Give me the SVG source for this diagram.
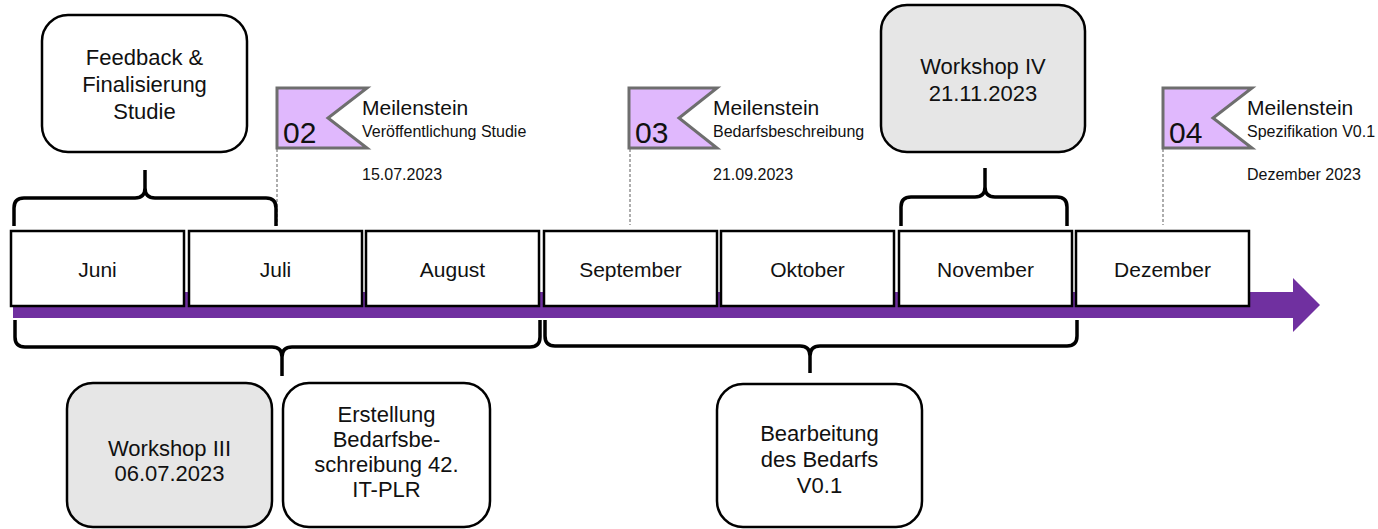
<svg xmlns="http://www.w3.org/2000/svg" width="1378" height="529" viewBox="0 0 1378 529">
<style>
text{font-family:"Liberation Sans",Arial,sans-serif;fill:#111}
.month rect{fill:#fff;stroke:#000;stroke-width:2.5}
.month text{font-size:21px;text-anchor:middle}
.box rect{fill:#fff;stroke:#000;stroke-width:2.5}
.box.grey rect{fill:#e6e6e6}
.box text{font-size:22px;text-anchor:middle}
.flag polygon{fill:#e0b8fd;stroke:#6e6e6e;stroke-width:3}
.flag .num{font-size:30px}
.flag .t1{font-size:21px}
.flag .t2{font-size:16px}
.brace{fill:none;stroke:#000;stroke-width:3.5;stroke-linejoin:round}
.pole{stroke:#777;stroke-width:1.2;stroke-dasharray:3 2}
</style>
<rect width="1378" height="529" fill="#fff"/>
<g id="timeline">
<rect x="13" y="292" width="1281" height="26" fill="#7030a0"/>
<polygon points="1293,278 1320,305 1293,332" fill="#7030a0"/>
</g>
<g id="connectors">
<line class="pole" x1="277" y1="149" x2="277" y2="225"/>
<line class="pole" x1="630" y1="149" x2="630" y2="225"/>
<line class="pole" x1="1163" y1="149" x2="1163" y2="225"/>
<path class="brace" d="M14 226 V208 Q14 198 24 198 H135 Q145 198 145 188 V170 M145 188 Q145 198 155 198 H266 Q276 198 276 208 V226"/>
<path class="brace" d="M901 226 V207 Q901 197 911 197 H975 Q985 197 985 187 V168 M985 187 Q985 197 995 197 H1057 Q1067 197 1067 207 V226"/>
<path class="brace" d="M15 320 V337 Q15 347 25 347 H272 Q282 347 282 357 V376 M282 357 Q282 347 292 347 H530 Q540 347 540 337 V320"/>
<path class="brace" d="M545 320 V336 Q545 346 555 346 H800 Q810 346 810 356 V373 M810 356 Q810 346 820 346 H1067 Q1077 346 1077 336 V320"/>
</g>
<g id="m-juni" class="month"><rect x="11" y="231" width="173" height="75"/><text x="97.5" y="277">Juni</text></g>
<g id="m-juli" class="month"><rect x="189" y="231" width="173" height="75"/><text x="275.5" y="277">Juli</text></g>
<g id="m-august" class="month"><rect x="366" y="231" width="173" height="75"/><text x="452.5" y="277">August</text></g>
<g id="m-september" class="month"><rect x="544" y="231" width="173" height="75"/><text x="630.5" y="277">September</text></g>
<g id="m-oktober" class="month"><rect x="721" y="231" width="173" height="75"/><text x="807.5" y="277">Oktober</text></g>
<g id="m-november" class="month"><rect x="899" y="231" width="173" height="75"/><text x="985.5" y="277">November</text></g>
<g id="m-dezember" class="month"><rect x="1076" y="231" width="173" height="75"/><text x="1162.5" y="277">Dezember</text></g>
<g id="feedback" class="box"><rect x="42" y="15" width="205" height="137" rx="26"/><text x="144.5" y="65">Feedback &amp;</text><text x="144.5" y="92">Finalisierung</text><text x="144.5" y="119">Studie</text></g>
<g id="workshop4" class="box grey"><rect x="881" y="5" width="204" height="147" rx="26"/><text x="983" y="74">Workshop IV</text><text x="983" y="101">21.11.2023</text></g>
<g id="workshop3" class="box grey"><rect x="67" y="383" width="205" height="144" rx="26"/><text x="169.5" y="456">Workshop III</text><text x="169.5" y="481">06.07.2023</text></g>
<g id="erstellung" class="box"><rect x="283" y="383" width="207" height="144" rx="26"/><text x="386.5" y="422">Erstellung</text><text x="386.5" y="447">Bedarfsbe-</text><text x="386.5" y="472">schreibung 42.</text><text x="386.5" y="497">IT-PLR</text></g>
<g id="bearbeitung" class="box"><rect x="717" y="384" width="205" height="143" rx="26"/><text x="819.5" y="441">Bearbeitung</text><text x="819.5" y="467">des Bedarfs</text><text x="819.5" y="493">V0.1</text></g>
<g id="ms02" class="flag"><polygon points="277,88 367,88 328,118 367,148 277,148"/><text class="num" x="283" y="143">02</text><text class="t1" x="362" y="115">Meilenstein</text><text class="t2" x="362" y="137">Veröffentlichung Studie</text><text class="t2" x="362" y="180">15.07.2023</text></g>
<g id="ms03" class="flag"><polygon points="629,88 717,88 679,118 717,148 629,148"/><text class="num" x="635" y="143">03</text><text class="t1" x="713" y="115">Meilenstein</text><text class="t2" x="713" y="137">Bedarfsbeschreibung</text><text class="t2" x="713" y="180">21.09.2023</text></g>
<g id="ms04" class="flag"><polygon points="1163,88 1252,88 1213,118 1252,148 1163,148"/><text class="num" x="1169" y="143">04</text><text class="t1" x="1247" y="115">Meilenstein</text><text class="t2" x="1247" y="137">Spezifikation V0.1</text><text class="t2" x="1247" y="180">Dezember 2023</text></g>
</svg>
